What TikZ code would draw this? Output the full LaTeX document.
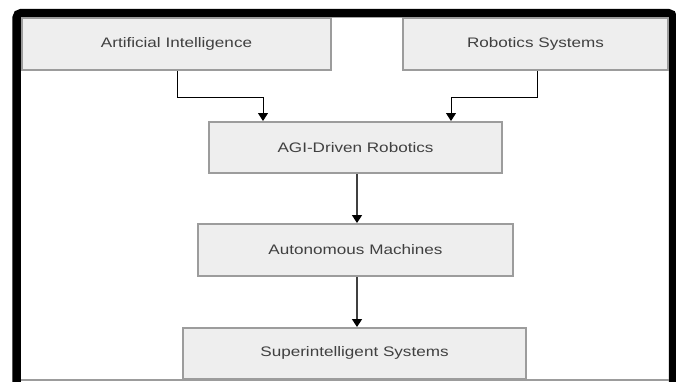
\documentclass[tikz,border=0pt]{standalone}
\usepackage{fontspec}
\newfontfamily\labfont[FakeStretch=1.24]{Liberation Sans}
\usetikzlibrary{arrows.meta}
\definecolor{boxfill}{HTML}{EEEEEE}
\definecolor{boxline}{HTML}{9C9C9C}
\definecolor{txt}{HTML}{404040}
\tikzset{
  blk/.style={draw=boxline, line width=2pt, fill=boxfill, inner sep=0pt,
    font=\labfont\fontsize{13.8}{16}\selectfont, text=txt},
  conn/.style={draw=black, line width=1pt, -{Triangle[width=10pt,length=8pt]}},
  vconn/.style={draw=black!75, line width=1.6pt, -{Triangle[width=10pt,length=8pt,black]}}
}
\begin{document}
\begin{tikzpicture}[x=1pt,y=-1pt]
\useasboundingbox (0,0) rectangle (676,381);
\fill[white] (0,0) rectangle (676,381);
\begin{scope}
\clip (0,0) rectangle (676,381);
\draw[black, line width=8.5pt, rounded corners=5pt] (16.5,13) rectangle (673,420);
\end{scope}
\draw[boxline, line width=1.5pt] (21,380) -- (669,380);
\node[blk, minimum width=309pt, minimum height=52pt] (ai) at (176.5,44) {Artificial Intelligence};
\node[blk, minimum width=265pt, minimum height=52pt] (rs) at (535.5,44) {Robotics Systems};
\node[blk, minimum width=293pt, minimum height=51pt] (agi) at (355.5,147.5) {AGI-Driven Robotics};
\node[blk, minimum width=315pt, minimum height=52pt] (am) at (355.5,250) {Autonomous Machines};
\node[blk, minimum width=343pt, minimum height=51pt] (si) at (354.5,353) {Superintelligent Systems};
\coordinate (aiS) at (177,71);
\coordinate (rsS) at (537,71);
\coordinate (agiL) at (263,121);
\coordinate (agiR) at (451,121);
\coordinate (agiS) at (357,174);
\coordinate (amN) at (357,223);
\coordinate (amS) at (357,277);
\coordinate (siN) at (357,327);
\draw[conn] (aiS) -- (177,97) -- (263,97) -- (agiL);
\draw[conn] (rsS) -- (537,97) -- (451,97) -- (agiR);
\draw[vconn] (agiS) -- (amN);
\draw[vconn] (amS) -- (siN);
\end{tikzpicture}
\end{document}
